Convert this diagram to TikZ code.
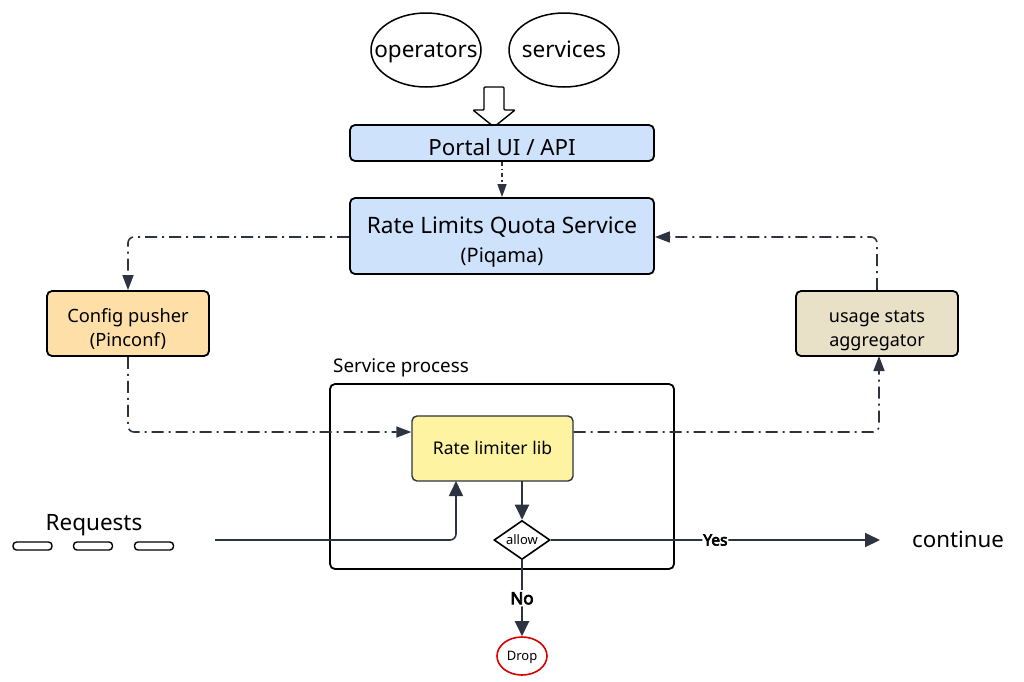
\documentclass[tikz,border=0pt]{standalone}
\usepackage{fontspec}
\setmainfont{Noto Sans}[AutoFakeBold=4]
\usetikzlibrary{shapes.geometric,arrows.meta}
\definecolor{ink}{HTML}{2D3340}
\definecolor{blueF}{HTML}{CFE2FB}
\definecolor{orangeF}{HTML}{FDDFA7}
\definecolor{tanF}{HTML}{E8E1C8}
\definecolor{yellowF}{HTML}{FDF3A0}
\tikzset{
  box/.style={draw=black, line width=1.8pt, rounded corners=5pt, inner sep=0pt, align=center},
  ell/.style={draw=black, line width=1.5pt, ellipse, inner sep=0pt},
  dd/.style={draw=ink, line width=1.6pt, dash pattern=on 12pt off 5pt on 2pt off 5pt, rounded corners=6pt, -{Triangle[length=15pt,width=11pt]}},
  solidarrow/.style={draw=ink, line width=2pt, rounded corners=6pt, -{Triangle[length=15pt,width=14pt]}},
  pill/.style={draw=black, line width=1.4pt, rounded corners=3.5pt, minimum width=39pt, minimum height=8pt, inner sep=0pt},
}
\begin{document}
\begin{tikzpicture}[x=1pt,y=-1pt]
\useasboundingbox (0,0) rectangle (1024,681);
% ellipses
\node[ell, minimum width=110pt, minimum height=74pt] (ops) at (426,50) {};
\node[ell, minimum width=110pt, minimum height=74pt] (svc) at (564,50) {};
\node[anchor=base, font=\fontsize{22.5}{26}\selectfont, inner sep=0pt] (opsT) at (426,57.5) {operators};
\node[anchor=base, font=\fontsize{22.5}{26}\selectfont, inner sep=0pt] (svcT) at (564,57.5) {services};
% hollow arrow
\draw[black, line width=1.4pt, fill=white, rounded corners=1pt]
  (484,87) -- (504,87) -- (504,110) -- (515,110) -- (494,127) -- (473,110) -- (484,110) -- cycle;
% boxes
\node[box, fill=blueF, minimum width=304pt, minimum height=36pt] (portal) at (502,143) {};
\node[anchor=base, inner sep=0pt, font=\fontsize{22.3}{26}\selectfont] (portalT) at (502,155.5) {Portal UI / API};
\node[box, fill=blueF, minimum width=304pt, minimum height=76pt] (rlqs) at (502,236) {};
\node[anchor=base, inner sep=0pt, font=\fontsize{22.6}{26}\selectfont] (rlqsT) at (502,233.5) {Rate Limits Quota Service};
\node[anchor=base, inner sep=0pt, font=\fontsize{20}{24}\selectfont] (rlqsP) at (502,262.5) {(Piqama)};
\node[box, fill=orangeF, minimum width=162pt, minimum height=65pt] (cfg) at (128,323.5) {};
\node[anchor=base, inner sep=0pt, font=\fontsize{18.3}{22}\selectfont] (cfgA) at (128,322) {Config pusher};
\node[anchor=base, inner sep=0pt, font=\fontsize{18.3}{22}\selectfont] (cfgB) at (128,346) {(Pinconf)};
\node[box, fill=tanF, minimum width=162pt, minimum height=65pt] (agg) at (877,323.5) {};
\node[anchor=base, inner sep=0pt, font=\fontsize{18}{22}\selectfont] (aggA) at (877,322) {usage stats};
\node[anchor=base, inner sep=0pt, font=\fontsize{18}{22}\selectfont] (aggB) at (877,346) {aggregator};
% service process
\node[box, fill=white, minimum width=344pt, minimum height=185pt] (sp) at (502,476.5) {};
\node[anchor=base west, inner sep=0pt, font=\fontsize{18.8}{22}\selectfont] (spl) at (333,372) {Service process};
\node[box, draw=ink, line width=1.4pt, fill=yellowF, minimum width=161pt, minimum height=65pt] (rll) at (492.5,448.5) {};
\node[anchor=base, inner sep=0pt, font=\fontsize{17.5}{21}\selectfont] (rllT) at (492.5,454) {Rate limiter lib};
% decision
\node[diamond, draw=black, line width=1.6pt, fill=white, minimum width=56pt, minimum height=39pt, inner sep=0pt, aspect=1.45] (allow) at (522,540) {};
\node[anchor=base, inner sep=0pt, font=\fontsize{13}{15}\selectfont] (allowT) at (522,544) {allow};
\node[ellipse, draw=red!85!black, line width=1.6pt, minimum width=50pt, minimum height=38pt, inner sep=0pt] (drop) at (522,656) {};
\node[anchor=base, inner sep=0pt, font=\fontsize{13}{15}\selectfont] (dropT) at (522,660.5) {Drop};
% requests
\node[anchor=base, inner sep=0pt, font=\fontsize{22.5}{26}\selectfont] (req) at (94,530) {Requests};
\node[pill] (p1) at (32.5,546) {};
\node[pill] (p2) at (93,546) {};
\node[pill] (p3) at (154,546) {};
\node[anchor=base, inner sep=0pt, font=\fontsize{22.3}{26}\selectfont] (cont) at (958,547) {continue};
\coordinate (rs) at (215,540);
\coordinate (yesend) at (880,540);
% connectors
\draw[draw=ink, line width=1.2pt, dash pattern=on 4pt off 3pt on 1.5pt off 3pt, -{Triangle[length=13pt,width=9pt]}] (portal.south) -- (rlqs.north);
\draw[dd] (rlqs.west |- 0,237) -- (128,237) -- (cfg.north);
\draw[dd] (agg.north) -- (877,237) -- (rlqs.east |- 0,237);
\draw[dd] (cfg.south) -- (128,432) -- (rll.west |- 0,432);
\draw[dd] (rll.east |- 0,432) -- (879,432) -- (879,356);
\draw[draw=ink, line width=1.6pt, rounded corners=6pt, -{Triangle[length=15pt,width=14pt]}] (rs) -- (456,540) -- (456,481);
\draw[solidarrow] (522,481) -- (allow.north);
\draw[solidarrow] (allow.east) -- node[fill=white, inner sep=1pt, pos=0.5] (yesL) {\bfseries\fontsize{15.5}{18}\selectfont Yes} (yesend);
\draw[solidarrow] (allow.south) -- node[fill=white, inner sep=2pt] (noL) {\bfseries\fontsize{17}{20}\selectfont No} (drop.north);
\end{tikzpicture}
\end{document}
